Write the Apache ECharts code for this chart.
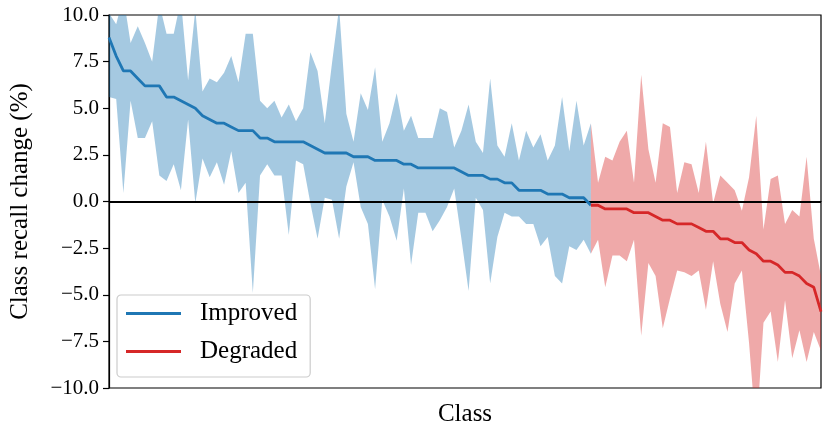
<!DOCTYPE html>
<html>
<head>
<meta charset="utf-8">
<script src="https://cdn.jsdelivr.net/npm/echarts@6/dist/echarts.min.js"></script>
<style>
  html, body { margin: 0; padding: 0; background: #fff; }
  #chart { width: 831px; height: 436px; }
</style>
</head>
<body>
<div id="chart"></div>
<script>
// classes 0..67 improved, 67..99 degraded (class 67 shared at the switch)
const blueMean = [8.8, 7.8, 7.0, 7.0, 6.6, 6.2, 6.2, 6.2, 5.6, 5.6,
    5.4, 5.2, 5.0, 4.6, 4.4, 4.2, 4.2, 4.0, 3.8, 3.8,
    3.8, 3.4, 3.4, 3.2, 3.2, 3.2, 3.2, 3.2, 3.0, 2.8,
    2.6, 2.6, 2.6, 2.6, 2.4, 2.4, 2.4, 2.2, 2.2, 2.2,
    2.2, 2.0, 2.0, 1.8, 1.8, 1.8, 1.8, 1.8, 1.8, 1.6,
    1.4, 1.4, 1.4, 1.2, 1.2, 1.0, 1.0, 0.6, 0.6, 0.6,
    0.6, 0.4, 0.4, 0.4, 0.2, 0.2, 0.2, -0.2];
const blueUpper = [10.1, 9.5, 11, 8.5, 9.4, 8.5, 7.5, 10.6, 9.0, 9.0,
    10.8, 6.5, 10.3, 5.9, 6.6, 6.4, 6.9, 7.8, 6.4, 9.0,
    9.0, 5.4, 5.0, 5.4, 4.5, 5.2, 4.3, 5.0, 8.0, 7.0,
    4.2, 7.4, 10.4, 4.7, 3.2, 5.8, 4.9, 7.2, 3.2, 4.2,
    5.8, 3.8, 4.6, 3.4, 3.4, 3.4, 5.0, 4.8, 2.9, 3.8,
    5.2, 3.2, 2.6, 6.6, 3.0, 2.4, 4.2, 2.2, 3.8, 2.9,
    3.6, 2.2, 3.0, 5.6, 2.7, 5.4, 3.0, 4.2];
const blueLower = [5.6, 5.5, 0.45, 5.4, 3.4, 3.4, 4.3, 1.4, 1.1, 2.0,
    0.6, 4.4, -0.1, 2.3, 1.3, 2.1, 0.9, 2.7, 0.45, 1.0,
    -4.9, 1.4, 2.0, 1.4, 1.4, -1.8, 2.2, 2.0, -0.1, -2.0,
    0.2, 0.1, -2.0, 0.8, 2.1, -0.3, -1.2, -4.7, 0.1, -0.8,
    -2.1, 0.7, -3.4, -0.6, -0.6, -1.6, -1.0, -0.3, 0.7, -2.0,
    -4.8, 0.2, -0.45, -4.4, -1.9, -0.6, -0.8, -0.8, -1.2, -1.2,
    -2.4, -1.9, -4.0, -4.4, -2.4, -2.6, -2.05, -2.8];

const redMean = [-0.2, -0.2, -0.4, -0.4, -0.4, -0.4, -0.6, -0.6, -0.6, -0.8,
    -1.0, -1.0, -1.2, -1.2, -1.2, -1.4, -1.6, -1.6, -2.0, -2.0,
    -2.2, -2.2, -2.6, -2.8, -3.2, -3.2, -3.4, -3.8, -3.8, -4.0,
    -4.4, -4.6, -5.9];
const redUpper = [4.2, 1.0, 2.4, 2.2, 3.2, 3.8, 1.0, 6.8, 2.8, 1.0,
    4.2, 4.0, 0.45, 2.1, 2.0, 0.45, 3.2, -0.1, 1.4, 1.0,
    0.6, -0.5, 1.3, 4.6, -1.5, 1.2, 1.4, -1.2, -0.45, -0.8,
    2.4, -2.0, -4.0];
const redLower = [-2.8, -2.05, -4.6, -2.9, -2.9, -3.2, -2.05, -7.2, -3.3, -4.0,
    -6.8, -5.2, -3.7, -3.8, -4.0, -3.7, -5.8, -3.2, -5.5, -7.0,
    -4.4, -3.7, -7.6, -12.5, -6.5, -5.9, -8.6, -5.3, -8.4, -6.9,
    -8.6, -7.0, -8.0];

const yTicks = [-10, -7.5, -5, -2.5, 0, 2.5, 5, 7.5, 10];

const BLUE = '#1f77b4';
const RED = '#d62728';
const FONT = '"Liberation Serif", "Times New Roman", serif';

const redStart = blueMean.length - 1;

function pts(arr, start) {
    return arr.map(function (v, k) { return [start + k, v]; });
}

// one filled polygon per band: upper edge forward, lower edge back
function bandSeries(name, lower, upper, start, fill) {
    const rows = upper.map(function (v, k) { return [start + k, lower[k], v]; });
    return {
        name: name,
        type: 'custom',
        silent: true,
        clip: true,
        z: 1,
        data: [0],
        renderItem: function (params, api) {
            const cs = params.coordSys;
            const poly = [];
            rows.forEach(function (r) { poly.push(api.coord([r[0], r[2]])); });
            for (let k = rows.length - 1; k >= 0; k--) {
                poly.push(api.coord([rows[k][0], rows[k][1]]));
            }
            return {
                type: 'polygon',
                shape: { points: poly },
                style: { fill: fill, stroke: null },
                clipPath: { type: 'rect', shape: { x: cs.x, y: cs.y, width: cs.width, height: cs.height } }
            };
        }
    };
}

const chart = echarts.init(document.getElementById('chart'), null, { renderer: 'canvas' });

chart.setOption({
    animation: false,
    backgroundColor: '#fff',
    textStyle: { fontFamily: FONT },
    grid: {
        left: 107, right: 10, top: 15, bottom: 48,
        show: true, borderColor: '#000', borderWidth: 1.2, backgroundColor: 'transparent'
    },
    legend: {
        data: ['Improved', 'Degraded'],
        orient: 'vertical',
        left: 117, top: 295,
        icon: 'rect',
        itemWidth: 55, itemHeight: 3,
        itemGap: 13,
        padding: [6, 13, 13, 9],
        borderColor: '#cccccc', borderWidth: 1.2, borderRadius: 4,
        backgroundColor: 'rgba(255,255,255,0.8)',
        textStyle: { fontFamily: FONT, fontSize: 25, color: '#000', padding: [0, 0, 0, 14] }
    },
    xAxis: {
        type: 'value', min: 0, max: 99,
        name: 'Class', nameLocation: 'middle', nameGap: 14,
        nameTextStyle: { fontFamily: FONT, fontSize: 25, color: '#000' },
        axisLine: { show: true, lineStyle: { color: '#000', width: 1.2 } },
        axisTick: { show: false },
        axisLabel: { show: false },
        splitLine: { show: false }
    },
    yAxis: {
        type: 'value', min: yTicks[0], max: yTicks[yTicks.length - 1], interval: 2.5,
        name: 'Class recall change (%)', nameLocation: 'middle', nameGap: 76, nameRotate: 90,
        nameTextStyle: { fontFamily: FONT, fontSize: 25, color: '#000' },
        axisLine: { show: true, lineStyle: { color: '#000', width: 1.2 } },
        axisTick: { show: true, inside: false, length: 6, lineStyle: { color: '#000', width: 1.2 } },
        axisLabel: {
            fontFamily: FONT, fontSize: 21, color: '#000', margin: 10,
            formatter: function (v) { return (v < 0 ? '\u2212' : '') + Math.abs(v).toFixed(1); }
        },
        splitLine: { show: false }
    },
    series: [
        bandSeries('blue-band', blueLower, blueUpper, 0, 'rgba(31,119,180,0.4)'),
        bandSeries('red-band', redLower, redUpper, redStart, 'rgba(214,39,40,0.4)'),
        {
            name: 'Improved', type: 'line', data: pts(blueMean, 0),
            showSymbol: false, color: BLUE,
            lineStyle: { color: BLUE, width: 2.8 }, z: 3,
            markLine: {
                silent: true, symbol: 'none', label: { show: false },
                lineStyle: { color: '#000', width: 1.8, type: 'solid' },
                data: [{ yAxis: 0 }],
                z: 2
            }
        },
        {
            name: 'Degraded', type: 'line', data: pts(redMean, redStart),
            showSymbol: false, color: RED,
            lineStyle: { color: RED, width: 2.8 }, z: 3
        }
    ]
});
</script>
</body>
</html>
